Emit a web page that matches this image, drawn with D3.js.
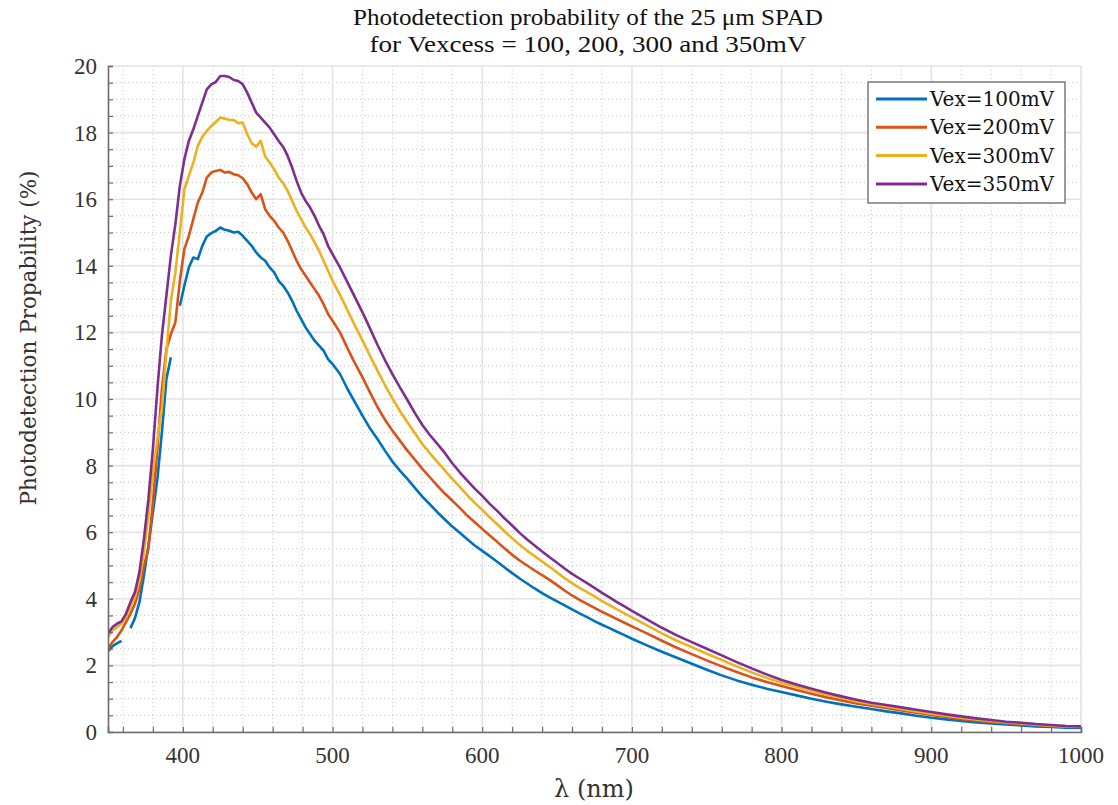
<!DOCTYPE html>
<html>
<head>
<meta charset="utf-8">
<script src="https://cdn.jsdelivr.net/npm/d3@7"></script>
<style>
  html, body { margin: 0; padding: 0; background: #ffffff; }
  svg { display: block; }
</style>
</head>
<body>
<svg id="chart" width="1118" height="805"></svg>
<script>
// ---------------- DATA ----------------
const titleLines = ["Photodetection probability of the 25 \u03BCm SPAD", "for Vexcess = 100, 200, 300 and 350mV"];
const xLabel = "\u03BB (nm)";
const yLabel = "Photodetection Propability (%)";
const seriesNames = ["Vex=100mV", "Vex=200mV", "Vex=300mV", "Vex=350mV"];
const seriesColors = ["#0072BD", "#D95319", "#EDB120", "#7E2F8E"];
const xTicks = [400, 500, 600, 700, 800, 900, 1000];
const yTicks = [0, 2, 4, 6, 8, 10, 12, 14, 16, 18, 20];

const wavelength = [
  350,353,356,359,362,365,368,371,374,377,380,383,386,389,392,395,398,401,404,407,
  410,413,416,419,422,425,428,431,434,437,440,443,446,449,452,455,458,461,464,467,
  470,473,476,479,482,485,488,491,494,497,
  500,505,510,515,520,525,530,535,540,545,550,555,560,565,570,575,580,585,590,595,
  600,605,610,615,620,625,630,635,640,645,650,655,660,665,670,675,680,685,690,695,
  700,710,720,730,740,750,760,770,780,790,800,810,820,830,840,850,860,870,880,890,
  900,910,920,930,940,950,960,970,980,990,1000
];

const vex100 = [
  2.42,2.58,2.66,2.74,null,3.12,3.42,3.9,4.7,5.6,6.6,7.6,9.0,10.6,11.25,null,12.8,13.4,13.95,14.25,
  14.2,14.6,14.88,14.98,15.05,15.15,15.08,15.05,15.0,15.02,14.9,14.75,14.6,14.4,14.25,14.15,13.95,13.8,13.55,13.4,
  13.2,12.95,12.65,12.4,12.15,11.95,11.75,11.6,11.45,11.2,
  11.05,10.75,10.3,9.9,9.5,9.12,8.8,8.45,8.12,7.85,7.6,7.33,7.07,6.84,6.6,6.38,6.17,5.98,5.79,5.6,
  5.44,5.28,5.11,4.94,4.77,4.61,4.46,4.31,4.17,4.04,3.92,3.8,3.68,3.56,3.45,3.33,3.22,3.12,3.01,2.91,
  2.8,2.6,2.41,2.23,2.05,1.87,1.7,1.55,1.42,1.3,1.2,1.1,1.0,0.91,0.83,0.76,0.69,0.62,0.56,0.49,
  0.43,0.38,0.33,0.29,0.26,0.23,0.2,0.17,0.15,0.13,0.12
];

const vex200 = [
  2.5,2.7,2.85,3.05,3.3,3.55,3.85,4.3,5.0,5.5,6.9,8.5,10.3,11.5,11.95,12.3,13.55,14.5,14.9,15.4,
  15.9,16.2,16.65,16.8,16.85,16.88,16.8,16.82,16.75,16.72,16.63,16.45,16.2,16.0,16.15,15.7,15.5,15.35,15.15,15.0,
  14.75,14.45,14.15,13.9,13.7,13.5,13.3,13.1,12.85,12.55,
  12.35,12.0,11.52,11.07,10.65,10.2,9.76,9.38,9.05,8.75,8.45,8.18,7.9,7.65,7.4,7.16,6.95,6.73,6.5,6.3,
  6.1,5.9,5.71,5.51,5.32,5.15,5.0,4.85,4.71,4.57,4.41,4.25,4.1,3.97,3.85,3.73,3.61,3.5,3.39,3.28,
  3.17,2.96,2.74,2.53,2.34,2.15,1.97,1.8,1.64,1.5,1.38,1.26,1.15,1.04,0.95,0.86,0.79,0.72,0.65,0.58,
  0.51,0.45,0.39,0.34,0.3,0.27,0.24,0.21,0.18,0.16,0.15
];

const vex300 = [
  2.85,3.05,3.15,3.25,3.45,3.75,4.05,4.55,5.4,6.5,7.8,8.8,9.7,11.4,12.95,13.8,15.0,16.3,16.7,17.1,
  17.6,17.88,18.05,18.2,18.32,18.45,18.42,18.38,18.38,18.28,18.3,17.95,17.68,17.58,17.75,17.28,17.1,16.9,16.65,16.48,
  16.25,15.95,15.65,15.4,15.15,14.95,14.7,14.45,14.15,13.85,
  13.55,13.13,12.66,12.2,11.76,11.3,10.85,10.42,10.02,9.64,9.3,8.97,8.65,8.37,8.11,7.86,7.6,7.36,7.11,6.88,
  6.67,6.45,6.24,6.02,5.82,5.62,5.44,5.28,5.12,4.96,4.79,4.62,4.47,4.33,4.2,4.07,3.93,3.81,3.68,3.56,
  3.44,3.2,2.96,2.74,2.55,2.35,2.16,1.97,1.79,1.63,1.48,1.36,1.24,1.12,1.02,0.92,0.84,0.77,0.69,0.62,
  0.55,0.49,0.43,0.38,0.33,0.29,0.26,0.22,0.19,0.17,0.16
];

const vex350 = [
  2.95,3.15,3.25,3.32,3.55,3.9,4.2,4.8,5.8,7.0,8.5,10.3,11.9,13.1,14.3,15.25,16.4,17.2,17.75,18.1,
  18.5,18.9,19.3,19.45,19.52,19.7,19.7,19.67,19.58,19.55,19.45,19.2,18.9,18.6,18.45,18.3,18.15,17.95,17.75,17.57,
  17.3,16.95,16.55,16.2,15.95,15.75,15.5,15.2,14.95,14.6,
  14.35,13.95,13.5,13.05,12.6,12.12,11.63,11.17,10.75,10.35,9.97,9.58,9.22,8.92,8.65,8.38,8.07,7.8,7.55,7.31,
  7.09,6.85,6.64,6.41,6.2,5.98,5.78,5.6,5.42,5.25,5.08,4.91,4.75,4.61,4.47,4.33,4.18,4.04,3.9,3.77,
  3.64,3.38,3.13,2.9,2.7,2.5,2.3,2.1,1.91,1.73,1.56,1.43,1.3,1.18,1.07,0.97,0.88,0.81,0.74,0.67,
  0.6,0.53,0.47,0.41,0.36,0.31,0.28,0.24,0.21,0.18,0.17
];

const seriesValues = [vex100, vex200, vex300, vex350];

// ---------------- LAYOUT ----------------
const margin = { left: 108, right: 1081, top: 66, bottom: 732 };
const svg = d3.select("#chart");

const x = d3.scaleLinear().domain([350, 1000]).range([margin.left, margin.right]);
const y = d3.scaleLinear().domain([0, 20]).range([margin.bottom, margin.top]);

const serif = "'Liberation Serif', 'Times New Roman', serif";
const dvSerif = "'DejaVu Serif', serif";

// minor grid
const xMinor = d3.range(360, 1000.1, 20).filter(v => v % 100 !== 0);
const yMinor = d3.range(0, 20.01, 0.5).filter(v => v % 2 !== 0);

const grid = svg.append("g");
grid.selectAll("line.xminor").data(xMinor).enter().append("line")
  .attr("x1", d => x(d)).attr("x2", d => x(d))
  .attr("y1", margin.top).attr("y2", margin.bottom)
  .attr("stroke", "#c4c4c4").attr("stroke-width", 1).attr("stroke-dasharray", "1,3");
grid.selectAll("line.yminor").data(yMinor).enter().append("line")
  .attr("x1", margin.left).attr("x2", margin.right)
  .attr("y1", d => y(d)).attr("y2", d => y(d))
  .attr("stroke", "#c4c4c4").attr("stroke-width", 1).attr("stroke-dasharray", "1,3");

// major grid
grid.selectAll("line.xmaj").data(xTicks).enter().append("line")
  .attr("x1", d => x(d)).attr("x2", d => x(d))
  .attr("y1", margin.top).attr("y2", margin.bottom)
  .attr("stroke", "#e3e3e3").attr("stroke-width", 1.6);
grid.selectAll("line.ymaj").data(yTicks).enter().append("line")
  .attr("x1", margin.left).attr("x2", margin.right)
  .attr("y1", d => y(d)).attr("y2", d => y(d))
  .attr("stroke", "#e3e3e3").attr("stroke-width", 1.6);

// ---------------- LINES ----------------
svg.append("clipPath").attr("id", "clip").append("rect")
  .attr("x", margin.left).attr("y", margin.top - 2)
  .attr("width", margin.right - margin.left + 2).attr("height", margin.bottom - margin.top + 2);

const line = d3.line()
  .defined(d => d[1] !== null)
  .x(d => x(d[0])).y(d => y(d[1]));

const plotG = svg.append("g").attr("clip-path", "url(#clip)");
seriesValues.forEach((vals, i) => {
  const pts = wavelength.map((w, k) => [w, vals[k]]);
  plotG.append("path")
    .datum(pts)
    .attr("fill", "none")
    .attr("stroke", seriesColors[i])
    .attr("stroke-width", 2.6)
    .attr("stroke-linejoin", "round")
    .attr("d", line);
});

// ---------------- AXES ----------------
const axisColor = "#6b6b6b";
const xAxis = d3.axisBottom(x)
  .tickValues(d3.range(360, 1000.1, 20))
  .tickSize(-5).tickFormat("");
const gx = svg.append("g").attr("transform", `translate(0,${margin.bottom})`).call(xAxis);
gx.select(".domain").attr("stroke", axisColor).attr("stroke-width", 1.6);
gx.selectAll(".tick line").attr("stroke", axisColor).attr("stroke-width", 1.2);

const yAxis = d3.axisLeft(y)
  .tickValues(d3.range(0.5, 20.01, 0.5))
  .tickSize(-5).tickFormat("");
const gy = svg.append("g").attr("transform", `translate(${margin.left},0)`).call(yAxis);
gy.select(".domain").attr("stroke", axisColor).attr("stroke-width", 1.6);
gy.selectAll(".tick line").attr("stroke", axisColor).attr("stroke-width", 1.2);

// tick labels
svg.append("g").selectAll("text").data(xTicks).enter().append("text")
  .attr("x", d => x(d)).attr("y", 763)
  .attr("text-anchor", "middle")
  .attr("font-family", serif).attr("font-size", 23).attr("fill", "#333")
  .text(d => d);
svg.append("g").selectAll("text").data(yTicks).enter().append("text")
  .attr("x", 97).attr("y", d => y(d) + 8)
  .attr("text-anchor", "end")
  .attr("font-family", serif).attr("font-size", 23).attr("fill", "#333")
  .text(d => d);

// axis labels
svg.append("text")
  .attr("x", 594).attr("y", 797)
  .attr("text-anchor", "middle")
  .attr("font-family", dvSerif).attr("font-size", 24).attr("fill", "#333")
  .text(xLabel);
svg.append("text")
  .attr("transform", "translate(36,338) rotate(-90)")
  .attr("text-anchor", "middle")
  .attr("font-family", dvSerif).attr("font-size", 22).attr("fill", "#333")
  .attr("textLength", 335).attr("lengthAdjust", "spacingAndGlyphs")
  .text(yLabel);

// title
const titleWidths = [470, 437];
titleLines.forEach((t, i) => {
  svg.append("text")
    .attr("x", 588).attr("y", 25 + i * 27)
    .attr("text-anchor", "middle")
    .attr("font-family", serif).attr("font-size", 24).attr("fill", "#111")
    .attr("textLength", titleWidths[i]).attr("lengthAdjust", "spacingAndGlyphs")
    .text(t);
});

// ---------------- LEGEND ----------------
const lg = svg.append("g");
lg.append("rect")
  .attr("x", 868).attr("y", 82).attr("width", 197).attr("height", 121)
  .attr("fill", "#fff").attr("stroke", "#7a7a7a").attr("stroke-width", 1.5);
seriesNames.forEach((name, i) => {
  const cy = 99 + i * 28.3;
  lg.append("line")
    .attr("x1", 876).attr("x2", 927).attr("y1", cy).attr("y2", cy)
    .attr("stroke", seriesColors[i]).attr("stroke-width", 3);
  lg.append("text")
    .attr("x", 930).attr("y", cy + 7)
    .attr("font-family", dvSerif).attr("font-size", 20).attr("fill", "#111")
    .text(name);
});
</script>
</body>
</html>
